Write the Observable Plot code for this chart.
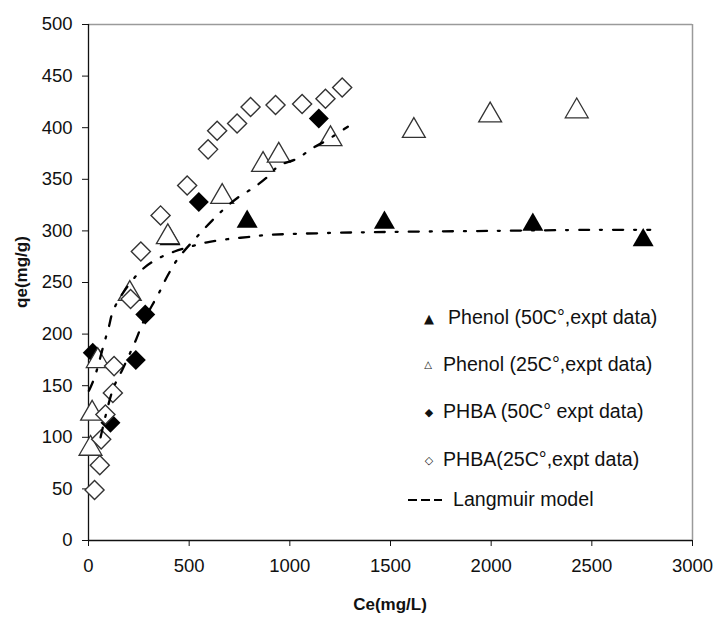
<!DOCTYPE html>
<html>
<head>
<meta charset="utf-8">
<script src="https://cdn.jsdelivr.net/npm/d3@7"></script>
<script src="https://cdn.jsdelivr.net/npm/@observablehq/plot@0.6"></script>
<style>
  html, body { margin: 0; padding: 0; background: #fff; }
  #wrap { position: relative; width: 718px; height: 621px; font-family: "Liberation Sans", Arial, sans-serif; color: #111; }
  .lbl { position: absolute; white-space: nowrap; }
  .axt { font-weight: bold; font-size: 17px; }
  .leg { font-size: 19.6px; line-height: 19px; }
  .sym { font-family: "DejaVu Sans", sans-serif; display: inline-block; text-align: center; }
</style>
</head>
<body>
<div id="wrap"></div>
<script>
// ---- data ----
const phenol50C = [405, 788, 1470, 2207, 2755];
const phenol50Q = [292, 309, 308, 306, 291];

const phenol25C = [10, 18, 46, 205, 394, 664, 867, 945, 1202, 1616, 1995, 2425];
const phenol25Q = [89, 123, 174, 239, 294, 333, 364, 373, 389, 397, 412, 416];

const phba50C = [21, 109, 235, 282, 548, 1144];
const phba50Q = [182, 114, 175, 219, 328, 409];

const phba25C = [30, 56, 63, 84, 121, 127, 209, 260, 358, 490, 594, 639, 738, 805, 929, 1061, 1177, 1260];
const phba25Q = [49, 73, 98, 122, 143, 169, 234, 280, 315, 344, 379, 397, 404, 420, 422, 423, 428, 439];

// Langmuir model curves (dash-dot)
const langA_C = [2, 30, 76, 101, 121, 175, 269, 344, 427, 510, 589, 689, 788, 887, 1200, 1500, 2000, 2500, 2790];
const langA_Q = [145, 158, 190, 207, 222, 241, 263, 273, 280, 285, 289, 292, 294, 296, 298, 299, 300, 301, 301];

const langB_C = [60, 122, 167, 237, 270, 353, 394, 444, 551, 614, 672, 747, 821, 887, 945, 1036, 1111, 1185, 1288];
const langB_Q = [100, 147, 165, 195, 211, 241, 257, 273, 297, 310, 321, 333, 342, 352, 363, 370, 380, 388, 401];

const xTicks = [0, 500, 1000, 1500, 2000, 2500, 3000];
const yTicks = [0, 50, 100, 150, 200, 250, 300, 350, 400, 450, 500];

const xTitle = "Ce(mg/L)";
const yTitle = "qe(mg/g)";
const legendItems = [
  {sym: "\u25B2", text: "Phenol (50C\u00B0,expt data)"},
  {sym: "\u25B3", text: "Phenol (25C\u00B0,expt data)"},
  {sym: "\u25C6", text: "PHBA (50C\u00B0 expt data)"},
  {sym: "\u25C7", text: "PHBA(25C\u00B0,expt data)"},
  {sym: "line", text: "Langmuir model"}
];

// ---- build tables ----
const zip = (cs, qs) => cs.map((c, i) => ({c, q: qs[i]}));
const p50 = zip(phenol50C, phenol50Q);
const p25 = zip(phenol25C, phenol25Q);
const h50 = zip(phba50C, phba50Q);
const h25 = zip(phba25C, phba25Q);
const lA = zip(langA_C, langA_Q);
const lB = zip(langB_C, langB_Q);

const dash = "10,11,2,11";

const chart = Plot.plot({
  width: 718,
  height: 621,
  marginLeft: 88,
  marginRight: 26,
  marginTop: 24,
  marginBottom: 81,
  style: {fontSize: "18.5px", fontFamily: "'Liberation Sans', Arial, sans-serif", color: "#111", background: "white"},
  x: {domain: [0, 3000], ticks: xTicks, tickSize: 6, tickPadding: 12, tickFormat: d3.format("d"), label: null},
  y: {domain: [0, 500], ticks: yTicks, tickSize: 6, tickPadding: 10, tickFormat: d3.format("d"), label: null},
  marks: [
    Plot.ruleY([500], {stroke: "#9a9a9a", strokeWidth: 1.5}),
    Plot.ruleX([3000], {stroke: "#9a9a9a", strokeWidth: 1.5}),
    Plot.ruleX([0], {stroke: "#111", strokeWidth: 1.3}),
    Plot.ruleY([0], {stroke: "#111", strokeWidth: 1.3}),
    Plot.dot(p50, {x: "c", y: "q", symbol: "triangle", r: 7.8, fill: "#000", stroke: "none"}),
    Plot.dot(h50, {x: "c", y: "q", symbol: "diamond2", r: 9, fill: "#000", stroke: "none"}),
    Plot.dot(p25, {x: "c", y: "q", symbol: "triangle", r: 8.5, fill: "white", stroke: "#333", strokeWidth: 1.3}),
    Plot.dot(h25, {x: "c", y: "q", symbol: "diamond2", r: 8.6, fill: "white", stroke: "#333", strokeWidth: 1.4}),
    Plot.line(lA, {x: "c", y: "q", curve: "catmull-rom", stroke: "#000", strokeWidth: 2.3, strokeDasharray: dash}),
    Plot.line(lB, {x: "c", y: "q", curve: "catmull-rom", stroke: "#000", strokeWidth: 2.3, strokeDasharray: dash})
  ]
});

const wrap = document.getElementById("wrap");
wrap.appendChild(chart);

function addLabel(text, cls, css) {
  const d = document.createElement("div");
  d.className = "lbl " + cls;
  d.textContent = text;
  Object.assign(d.style, css);
  wrap.appendChild(d);
  return d;
}
addLabel(xTitle, "axt", {left: "390px", top: "605px", transform: "translate(-50%,-50%)"});
addLabel(yTitle, "axt", {left: "22px", top: "272px", transform: "translate(-50%,-50%) rotate(-90deg)"});

// legend
const legRows = [
  {cy: 318, symX: 429, textX: 448, size: 13},
  {cy: 365, symX: 428, textX: 443, size: 10},
  {cy: 412, symX: 429, textX: 443, size: 11},
  {cy: 460, symX: 429, textX: 443, size: 11}
];
legendItems.forEach((it, i) => {
  if (it.sym === "line") {
    const svgNS = "http://www.w3.org/2000/svg";
    const s = document.createElementNS(svgNS, "svg");
    s.setAttribute("width", 36); s.setAttribute("height", 6);
    s.style.position = "absolute"; s.style.left = "407px"; s.style.top = "497px";
    const ln = document.createElementNS(svgNS, "line");
    ln.setAttribute("x1", 1); ln.setAttribute("x2", 35); ln.setAttribute("y1", 3); ln.setAttribute("y2", 3);
    ln.setAttribute("stroke", "#000"); ln.setAttribute("stroke-width", 2); ln.setAttribute("stroke-dasharray", "9,4");
    s.appendChild(ln);
    wrap.appendChild(s);
    addLabel(it.text, "leg", {left: "453px", top: (500 - 10) + "px"});
  } else {
    const r = legRows[i];
    addLabel(it.sym, "sym", {left: r.symX + "px", top: r.cy + "px", fontSize: r.size + "px", lineHeight: "1", transform: "translate(-50%,-50%)"});
    addLabel(it.text, "leg", {left: r.textX + "px", top: (r.cy - 10) + "px"});
  }
});
</script>
</body>
</html>
